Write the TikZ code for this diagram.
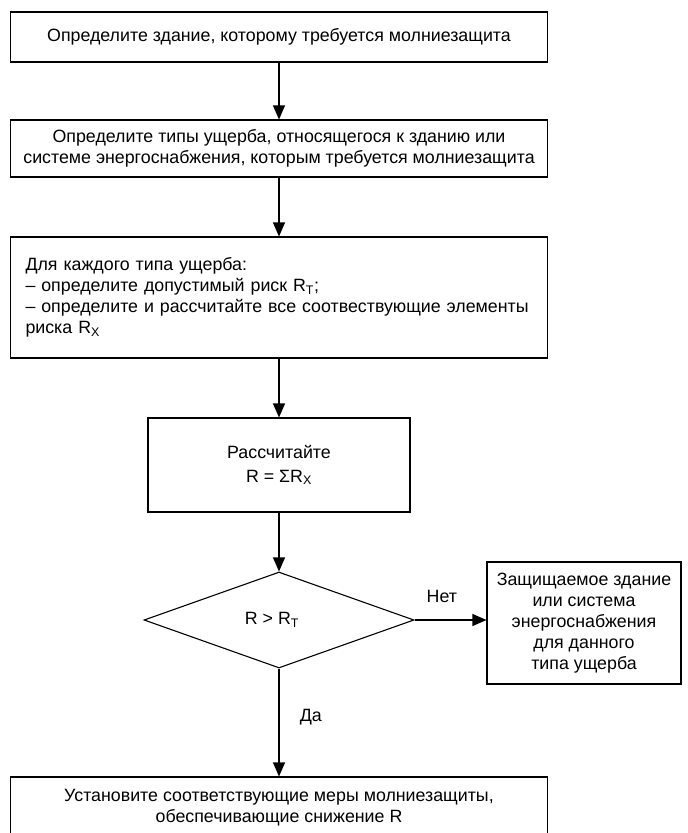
\documentclass[tikz,border=0pt]{standalone}
\usepackage{fontspec}
\setmainfont{Liberation Sans}
\usetikzlibrary{arrows.meta,shapes.geometric}
\newcommand{\lsub}[1]{\textsubscript{#1}}

\begin{document}
\begin{tikzpicture}[x=1pt,y=-1pt,line width=1.1pt,
    font=\fontsize{17.8}{21}\selectfont,
    blok/.style={draw,inner sep=0pt,align=center},
    arr/.style={-{Triangle[length=14pt,width=12pt]}}]

    \useasboundingbox (0,0) rectangle (688,833);

    \node[blok,minimum width=537pt,minimum height=50pt] (B1) at (279,37)
        {Определите здание, которому требуется молниезащита};
    \node[blok,minimum width=537pt,minimum height=57pt] (B2) at (279,148.5)
        {Определите типы ущерба, относящегося к зданию или\\
         системе энергоснабжения, которым требуется молниезащита};
    \node[blok,align=left,text width=507pt,inner xsep=15pt,minimum height=121pt] (B3) at (279,297.5)
        {Для каждого типа ущерба:\\
         – определите допустимый риск R\lsub{T};\\
         – определите и рассчитайте все соотвествующие элементы\\
         риска R\lsub{X}};
    \node[blok,minimum width=262pt,minimum height=94pt] (B4) at (279,465)
        {Рассчитайте\\[3pt] R = ΣR\lsub{X}};
    \node[blok,diamond,minimum width=270pt,minimum height=96pt] (D) at (279,620)
        {R > R\lsub{T}\hspace{14pt}};
    \node[blok,minimum width=194pt,minimum height=122pt] (R) at (584,623)
        {Защищаемое здание\\ или система\\ энергоснабжения\\ для данного\\ типа ущерба};
    \node[blok,minimum width=537pt,minimum height=62pt] (B5) at (279,808)
        {Установите соответствующие меры молниезащиты,\\
         обеспечивающие снижение R};

    \draw[arr] (B1) -- (B2);
    \draw[arr] (B2) -- (B3);
    \draw[arr] (B3) -- (B4);
    \draw[arr] (B4) -- (D);
    \draw[arr] (D.east) -- (D.east -| R.west) node[pos=0.38,above=13pt] {Нет};
    \draw[arr] (D) -- (B5) node[pos=0.45,right=17pt] {Да};

\end{tikzpicture}
\end{document}
